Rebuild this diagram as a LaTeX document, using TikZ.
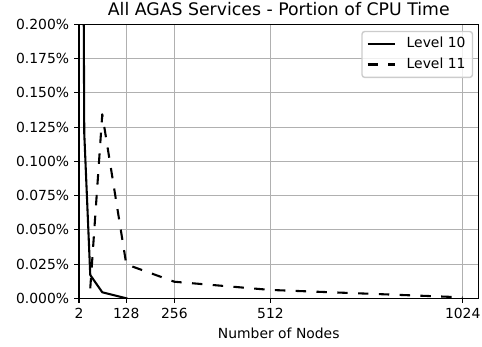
\documentclass[tikz,border=0pt]{standalone}
\usepackage{fontspec}
\setmainfont{DejaVu Sans}
\definecolor{gridgray}{HTML}{B0B0B0}
\definecolor{legedge}{HTML}{CCCCCC}
\newcommand\ticksize{\fontsize{13.9}{16}\selectfont}
\newcommand\titlesize{\fontsize{17.3}{20}\selectfont}
\begin{document}
\begin{tikzpicture}[x=1pt,y=1pt,
  gridline/.style={draw=gridgray, line width=1.11pt},
  spine/.style={draw=black, line width=1.11pt, line cap=rect},
  tickmark/.style={draw=black, line width=1.11pt},
  ylab/.style={inner sep=0pt, font=\ticksize, text height=10.1pt, text depth=0pt, anchor=east},
  xlab/.style={inner sep=0pt, font=\ticksize, text height=10.1pt, text depth=0pt, anchor=north},
  solidser/.style={draw=black, line width=2.08pt, line join=round, line cap=rect},
  dashser/.style={draw=black, line width=2.08pt, line join=round, dash pattern=on 10.4pt off 10.4pt},
  legtext/.style={inner sep=0pt, font=\ticksize, anchor=base west},
]
\useasboundingbox (0,0) rectangle (482,347);
% axes box corners
\coordinate (LL) at (79.0,48.7);
\coordinate (UR) at (478.5,322.5);
% grid
\foreach \gx in {79.0,126.3,174.4,270.5,462.7}
  \draw[gridline] (\gx,48.7) -- (\gx,322.5);
\foreach \k in {0,...,8}
  \draw[gridline] (79.0,48.7+\k*34.225) -- (478.5,48.7+\k*34.225);
% data
\begin{scope}
\clip (LL) rectangle (UR);
\begin{scope}[shift={(78.249,48.7)}, x=0.37544pt, y=1369pt]
  \coordinate (a0) at (2,1.0);
  \coordinate (a1) at (16,0.1205);
  \coordinate (a2) at (32,0.0170);
  \coordinate (a3) at (64,0.0044);
  \coordinate (a4) at (128,0);
  \draw[solidser] (a0) -- (a1) -- (a2) -- (a3) -- (a4);
  \coordinate (b1) at (32,0.0073);
  \coordinate (b2) at (64,0.1344);
  \coordinate (b3) at (128,0.0248);
  \coordinate (b4) at (256,0.0121);
  \coordinate (b5) at (512,0.0061);
  \coordinate (b6) at (1024,0.0007);
  \draw[dashser] (b1) -- (b2) -- (b3) -- (b4) -- (b5) -- (b6);
\end{scope}
\end{scope}
% spines
\draw[spine] (LL) rectangle (UR);
% ticks and labels
\foreach \gx/\lab in {79.0/2,126.3/128,174.4/256,270.5/512,462.7/1024} {
  \draw[tickmark] (\gx,48.7) -- (\gx,43.84);
  \node[xlab] (xt\lab) at (\gx,38.7) {\lab};
}
\foreach \k/\lab in {0/0.000,1/0.025,2/0.050,3/0.075,4/0.100,5/0.125,6/0.150,7/0.175,8/0.200} {
  \draw[tickmark] (79.0,48.7+\k*34.225) -- (74.14,48.7+\k*34.225);
  \node[ylab] (yt\k) at (69.3,48.7+\k*34.225) {\lab\%};
}
\node[inner sep=0pt, font=\ticksize, anchor=base] (xaxislabel) at (278.75,8.9) {Number of Nodes};
\node[inner sep=0pt, font=\titlesize, anchor=base] (title) at (278.75,331.3) {All AGAS Services - Portion of CPU Time};
% legend
\draw[draw=legedge, fill=white, fill opacity=0.8, line width=1.39pt, rounded corners=2.8pt] (362,269.6) rectangle (472.5,315.5);
\coordinate (h1s) at (367.6,303);
\coordinate (h1e) at (395.4,303);
\coordinate (h2s) at (367.6,282.5);
\coordinate (h2e) at (395.4,282.5);
\draw[solidser, line cap=butt] (h1s) -- (h1e);
\draw[dashser] (h2s) -- (h2e);
\node[legtext] (leg10) at (406.5,299.4) {Level 10};
\node[legtext] (leg11) at (406.5,278.9) {Level 11};
\end{tikzpicture}
\end{document}
